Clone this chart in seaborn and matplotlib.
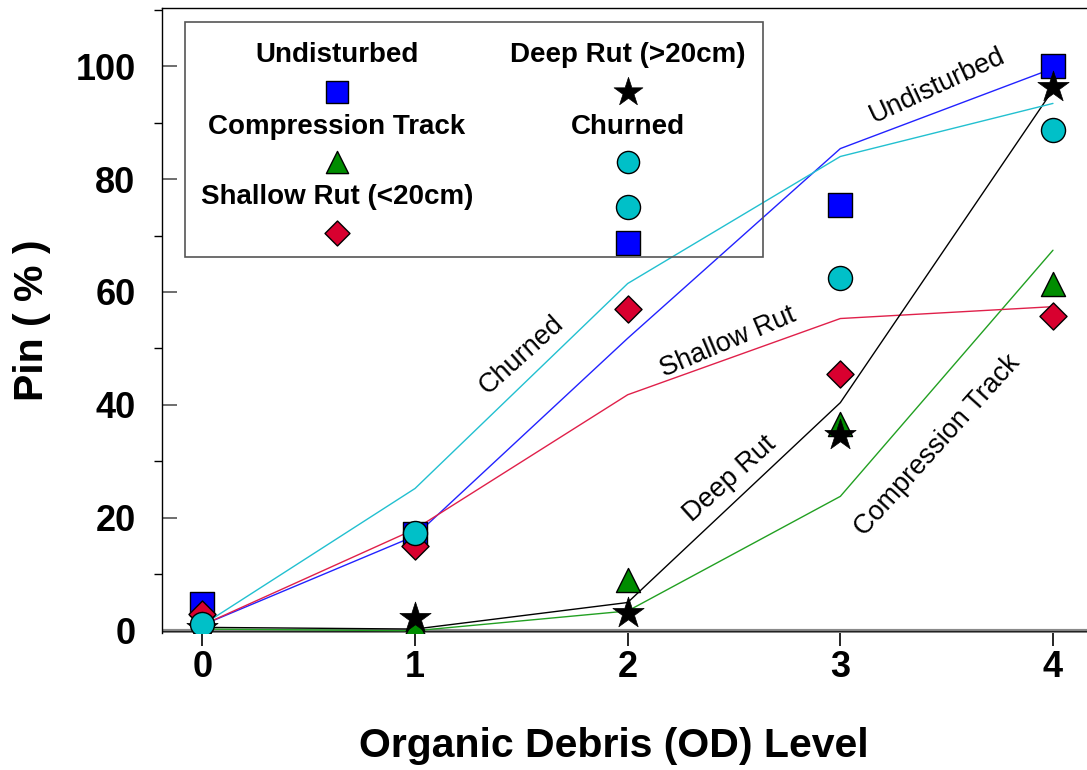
import numpy as np
import pandas as pd
import matplotlib
matplotlib.use("Agg")
import matplotlib.pyplot as plt
from matplotlib.patches import Rectangle
from matplotlib.ticker import MultipleLocator
import seaborn as sns

# ---------------- data ----------------
od_levels = [0, 1, 2, 3, 4]

# observed points
undisturbed_pts = [4.8, 17.2, 68.6, 75.4, 100.0]
compression_pts = [0.5, 0.6, 8.9, 36.7, 61.5]
shallow_pts = [3.0, 15.0, 57.0, 45.4, 55.7]
deep_pts = [0.5, 2.2, 3.2, 34.6, 96.3]
churned_pts = [1.2, 17.4, 75.0, 62.4, 88.7]

# fitted lines
undisturbed_fit = [1.0, 16.8, 51.8, 85.4, 99.6]
compression_fit = [0.3, 0.0, 3.5, 23.8, 67.4]
shallow_fit = [1.0, 18.0, 41.8, 55.3, 57.4]
deep_fit = [0.6, 0.3, 5.0, 40.4, 95.8]
churned_fit = [1.0, 25.2, 61.5, 84.0, 93.4]

series_names = ["Undisturbed", "Compression Track", "Shallow Rut (<20cm)",
                "Deep Rut (>20cm)", "Churned"]
curve_labels = ["Undisturbed", "Compression Track", "Shallow Rut",
                "Deep Rut", "Churned"]

# ---------------- style ----------------
sns.set_theme(style="white")
plt.rcParams["font.family"] = ["Liberation Sans", "DejaVu Sans"]
plt.rcParams["text.color"] = "black"
plt.rcParams["axes.labelcolor"] = "black"
plt.rcParams["xtick.color"] = "black"
plt.rcParams["ytick.color"] = "black"

fig = plt.figure(figsize=(10.87, 7.70), dpi=100)
ax = fig.add_axes([162 / 1087, 1 - 633 / 770, 925 / 1087, 625 / 770])

styles = {
    "Undisturbed": dict(marker="s", fill="#0000FF", line="#2222FF", s=280, lw_e=1.0),
    "Compression Track": dict(marker="^", fill="#008C00", line="#22A022", s=300, lw_e=1.0),
    "Shallow Rut (<20cm)": dict(marker="D", fill="#D8002F", line="#E0204A", s=190, lw_e=1.0),
    "Deep Rut (>20cm)": dict(marker="*", fill="#000000", line="#000000", s=560, lw_e=0.5),
    "Churned": dict(marker="o", fill="#00C0C8", line="#22C0D0", s=300, lw_e=1.0),
}

pts = dict(zip(series_names, [undisturbed_pts, compression_pts, shallow_pts,
                              deep_pts, churned_pts]))
fits = dict(zip(series_names, [undisturbed_fit, compression_fit, shallow_fit,
                               deep_fit, churned_fit]))

# baseline (gray double line at zero)
ax.axhline(0, color="#8a8a8a", lw=3.0, zorder=1)
ax.axhline(0, color="#222222", lw=0.8, zorder=1.1)

# fitted lines
for name in series_names:
    df = pd.DataFrame({"od": od_levels, "val": fits[name]})
    sns.lineplot(data=df, x="od", y="val", ax=ax, color=styles[name]["line"],
                 lw=1.0, zorder=2, legend=False)

# observed points
for name in series_names:
    st = styles[name]
    df = pd.DataFrame({"od": od_levels, "val": pts[name]})
    sns.scatterplot(data=df, x="od", y="val", ax=ax, marker=st["marker"],
                    s=st["s"], color=st["fill"], edgecolor="black",
                    linewidth=st["lw_e"], zorder=3, legend=False)

# curve labels
label_pos = {
    "Undisturbed": (3.454, 96.6, 25),
    "Churned": (1.50, 48.8, 42),
    "Shallow Rut": (2.47, 51.1, 23),
    "Deep Rut": (2.48, 26.9, 42),
    "Compression Track": (3.459, 32.8, 48),
}
for lab in curve_labels:
    x, y, r = label_pos[lab]
    ax.text(x, y, lab, rotation=r, rotation_mode="anchor", ha="center",
            va="center", fontsize=19.5, color="black", zorder=4)

# ---------------- axes ----------------
ax.set_xlim(-0.19, 4.16)
ax.set_ylim(-0.4, 110.3)
ax.set_xticks(od_levels)
ax.yaxis.set_major_locator(MultipleLocator(20))
ax.yaxis.set_minor_locator(MultipleLocator(10))

ax.spines["right"].set_visible(False)
ax.spines["bottom"].set_visible(False)
for side in ["top", "left"]:
    ax.spines[side].set_visible(True)
    ax.spines[side].set_color("black")
    ax.spines[side].set_linewidth(1.0)

ax.tick_params(axis="x", which="major", direction="out", length=9, width=1.2,
               color="black", labelsize=26, pad=3, bottom=True)
ax.tick_params(axis="y", which="major", direction="in", length=11, width=1.2,
               color="#555555", labelsize=26, pad=19, left=True)
ax.tick_params(axis="y", which="minor", direction="out", length=6, width=1.0,
               color="black", left=True)
for lbl in ax.get_xticklabels() + ax.get_yticklabels():
    lbl.set_fontweight("bold")

ax.set_xlabel("Organic Debris (OD) Level", fontsize=29.5, fontweight="bold")
ax.set_ylabel("Pin ( % )", fontsize=29.5, fontweight="bold")
ax.xaxis.set_label_coords(0.4886, -0.150)
ax.yaxis.set_label_coords(-0.120, 0.5008)
ax.grid(False)

# ---------------- legend (drawn as in original: label above symbol) ----------------
ax.add_patch(Rectangle((0.0249, 0.602), 0.6251, 0.376, transform=ax.transAxes,
                       fill=False, edgecolor="#555555", lw=1.2, zorder=5))
leg_layout = {
    "Undisturbed": (0.189, 0.925, 0.866),
    "Compression Track": (0.189, 0.810, 0.754),
    "Shallow Rut (<20cm)": (0.189, 0.698, 0.640),
    "Deep Rut (>20cm)": (0.504, 0.925, 0.866),
    "Churned": (0.504, 0.810, 0.754),
}
for name in series_names:
    lx, ty, my = leg_layout[name]
    st = styles[name]
    ax.text(lx, ty, name, transform=ax.transAxes, ha="center", va="center",
            fontsize=20, fontweight="bold", zorder=6)
    ax.scatter([lx], [my], transform=ax.transAxes, marker=st["marker"],
               s=st["s"] * 0.85, color=st["fill"], edgecolor="black",
               linewidth=st["lw_e"], zorder=6, clip_on=False)

fig.savefig("out.png", dpi=100)
